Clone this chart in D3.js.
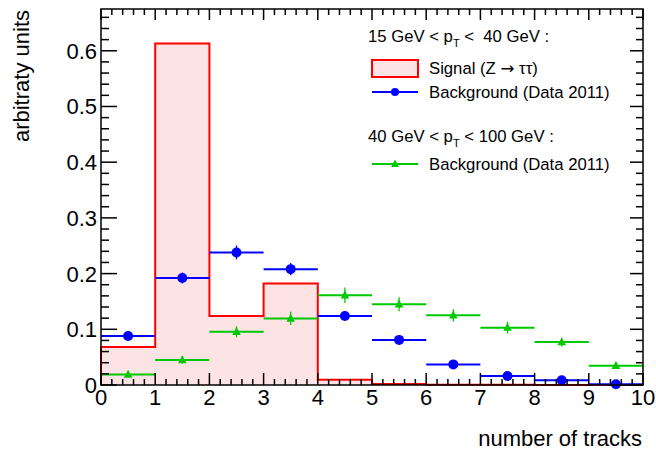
<!DOCTYPE html>
<html>
<head>
<meta charset="utf-8">
<script src="https://cdn.jsdelivr.net/npm/d3@7"></script>
<style>
  body { margin: 0; background: #fff; }
  text { font-family: "Liberation Sans", Arial, Helvetica, sans-serif; fill: #000; }
</style>
</head>
<body>
<svg id="chart" width="656" height="453"></svg>
<script>
// ---- data ----
const binEdges = [0, 1, 2, 3, 4, 5, 6, 7, 8, 9, 10];
const signal = [0.068, 0.613, 0.124, 0.182, 0.0095, 0.002, 0.0005, 0.0003, 0, 0];
const bkgLow = [0.088, 0.192, 0.238, 0.208, 0.124, 0.081, 0.037, 0.016, 0.0085, 0.0015];
const bkgLowErr = [0.005, 0.01, 0.0125, 0.011, 0.007, 0.005, 0.004, 0.003, 0.002, 0.001];
const bkgHigh = [0.019, 0.045, 0.0955, 0.1195, 0.161, 0.145, 0.125, 0.103, 0.077, 0.0345];
const bkgHighErr = [0.006, 0.007, 0.01, 0.012, 0.014, 0.0125, 0.011, 0.0105, 0.008, 0.006];
const xTickValues = [0, 1, 2, 3, 4, 5, 6, 7, 8, 9, 10];
const yTickValues = [0, 0.1, 0.2, 0.3, 0.4, 0.5, 0.6];
const xTitle = "number of tracks";
const yTitle = "arbitraty units";

// ---- layout ----
const L = 101, R = 643, T = 9, B = 385;
const svg = d3.select("#chart");
const x = d3.scaleLinear().domain([0, 10]).range([L, R]);
const y = d3.scaleLinear().domain([0, 0.675]).range([B, T]);

const RED = "#ff0000", BLUE = "#0000ff", GREEN = "#00c800", FILL = "#fde3e3";

// ---- signal histogram ----
const bins = signal.map((v, i) => ({ x0: binEdges[i], x1: binEdges[i + 1], v }));
let pts = [[x(0), y(0)]];
bins.forEach(b => { pts.push([x(b.x0), y(b.v)]); pts.push([x(b.x1), y(b.v)]); });
pts.push([x(10), y(0)]);
const line = d3.line();
svg.append("path").attr("d", line(pts) + "Z").attr("fill", FILL).attr("stroke", "none");
svg.append("path").attr("d", line(pts)).attr("fill", "none").attr("stroke", RED).attr("stroke-width", 2);

// ---- background series ----
function drawSeries(vals, errs, color, marker) {
  const g = svg.append("g");
  vals.forEach((v, i) => {
    const cx = x((binEdges[i] + binEdges[i + 1]) / 2);
    g.append("line").attr("x1", x(binEdges[i])).attr("x2", x(binEdges[i + 1]))
      .attr("y1", y(v)).attr("y2", y(v)).attr("stroke", color).attr("stroke-width", 2);
    g.append("line").attr("x1", cx).attr("x2", cx)
      .attr("y1", y(v - errs[i])).attr("y2", y(v + errs[i])).attr("stroke", color).attr("stroke-width", 1.3);
    marker(g, cx, y(v), color);
  });
}
const circleMarker = (g, cx, cy, c, r = 5) => g.append("circle").attr("cx", cx).attr("cy", cy).attr("r", r).attr("fill", c);
const triMarker = (g, cx, cy, c, s = 4.3) => g.append("path")
  .attr("d", `M${cx},${cy - s * 1.1}L${cx + s},${cy + s * 0.75}L${cx - s},${cy + s * 0.75}Z`).attr("fill", c);

drawSeries(bkgLow, bkgLowErr, BLUE, circleMarker);
drawSeries(bkgHigh, bkgHighErr, GREEN, triMarker);

// ---- frame & ticks ----
const fg = svg.append("g").attr("stroke", "#000").attr("stroke-width", 1.5);
fg.append("rect").attr("x", L).attr("y", T).attr("width", R - L).attr("height", B - T).attr("fill", "none");

const xMinor = d3.range(0, 10.001, 0.2);
const yMinor = d3.range(0, 0.675, 0.02);
xMinor.forEach(v => {
  const major = Math.abs(v - Math.round(v)) < 1e-6;
  fg.append("line").attr("x1", x(v)).attr("x2", x(v)).attr("y1", B).attr("y2", B - (major ? 12 : 6));
  fg.append("line").attr("x1", x(v)).attr("x2", x(v)).attr("y1", T).attr("y2", T + (major ? 11 : 6));
});
yMinor.forEach(v => {
  const major = Math.abs(v * 10 - Math.round(v * 10)) < 1e-6;
  fg.append("line").attr("x1", L).attr("x2", L + (major ? 16 : 8)).attr("y1", y(v)).attr("y2", y(v));
  fg.append("line").attr("x1", R).attr("x2", R - (major ? 13 : 7)).attr("y1", y(v)).attr("y2", y(v));
});

// tick labels
svg.append("g").selectAll("text").data(xTickValues).join("text")
  .attr("x", d => x(d)).attr("y", 405).attr("text-anchor", "middle")
  .style("font-size", "22px").text(d => d);
svg.append("g").selectAll("text").data(yTickValues).join("text")
  .attr("x", 97).attr("y", d => y(d)).attr("dy", "0.36em").attr("text-anchor", "end")
  .style("font-size", "22px").text(d => d === 0 ? "0" : d3.format(".1f")(d));

// axis titles
svg.append("text").attr("x", 642).attr("y", 446).attr("text-anchor", "end")
  .style("font-size", "22px").text(xTitle);
svg.append("text").attr("transform", "translate(29,10) rotate(-90)").attr("text-anchor", "end")
  .style("font-size", "22px").text(yTitle);

// ---- legend ----
const lg = svg.append("g").style("font-size", "16.7px").style("white-space", "pre");
function ptLabel(yb, pre, post) {
  const t = lg.append("text").attr("x", 368).attr("y", yb).attr("xml:space", "preserve");
  t.append("tspan").text(pre);
  t.append("tspan").attr("dy", 5).style("font-size", "11px").text("T");
  t.append("tspan").attr("dy", -5).text(post);
}
ptLabel(42, "15 GeV < p", " <  40 GeV :");
lg.append("rect").attr("x", 372).attr("y", 60).attr("width", 46).attr("height", 17)
  .attr("fill", FILL).attr("stroke", RED).attr("stroke-width", 2);
const sig = lg.append("text").attr("x", 429).attr("y", 74);
sig.append("tspan").text("Signal (Z ");
sig.append("tspan").style("font-family", "'DejaVu Sans'").text("\u2192");
sig.append("tspan").text(" \u03c4\u03c4)");
lg.append("line").attr("x1", 372).attr("x2", 418).attr("y1", 92).attr("y2", 92).attr("stroke", BLUE).attr("stroke-width", 2);
circleMarker(lg, 395, 92, BLUE, 4);
lg.append("text").attr("x", 429).attr("y", 98).text("Background (Data 2011)");
ptLabel(142, "40 GeV < p", " < 100 GeV :");
lg.append("line").attr("x1", 372).attr("x2", 418).attr("y1", 164).attr("y2", 164).attr("stroke", GREEN).attr("stroke-width", 2);
triMarker(lg, 395, 164, GREEN, 4);
lg.append("text").attr("x", 429).attr("y", 170).text("Background (Data 2011)");
</script>
</body>
</html>
